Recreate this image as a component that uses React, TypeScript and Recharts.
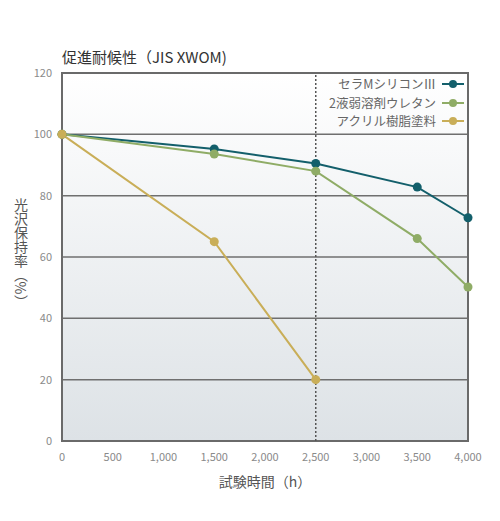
import React from 'react'
import { CartesianGrid, Label, Legend, Line, LineChart, ReferenceArea, ReferenceLine, XAxis, YAxis } from 'recharts'

const hours = [0, 1500, 2500, 3500, 4000]
const ceramSilicon = [100, 95.2, 90.5, 82.8, 72.8]
const urethane = [100, 93.6, 88, 66, 50.2]
const acrylic: (number | null)[] = [100, 65, 20, null, null]

const xTicks = [0, 500, 1000, 1500, 2000, 2500, 3000, 3500, 4000]
const yTicks = [0, 20, 40, 60, 80, 100, 120]

const seriesNames = ['セラMシリコンⅢ', '2液弱溶剤ウレタン', 'アクリル樹脂塗料']
const seriesColors = ['#135f6b', '#8fac66', '#c9ae58']

const data = hours.map((h, i) => ({
    h,
    s0: ceramSilicon[i],
    s1: urethane[i],
    s2: acrylic[i],
}))

const font = '"Noto Sans CJK JP", "Noto Sans", sans-serif'

const fmt = (v: number) => v.toLocaleString('en-US')

const LegendBox = () => (
    <div style={{ fontFamily: font, fontSize: 12.5, color: '#666', lineHeight: '18.5px' }}>
        {seriesNames.map((n, i) => (
            <div key={n} style={{ display: 'flex', alignItems: 'center', justifyContent: 'flex-end' }}>
                <span>{n}</span>
                <svg width={26} height={12} style={{ marginLeft: 4 }}>
                    <line x1={2} x2={24} y1={6} y2={6} stroke={seriesColors[i]} strokeWidth={2} />
                    <circle cx={13} cy={6} r={4} fill={seriesColors[i]} />
                </svg>
            </div>
        ))}
    </div>
)

const VerticalLabel = () => (
    <text x={21} y={253} textAnchor="middle" fill="#555" fontSize={14}
        style={{ writingMode: 'vertical-rl', fontFamily: font }}>
        光沢保持率（%）
    </text>
)

const App = () => {
    return (
        <div style={{ position: 'absolute', left: 0, top: 0, fontFamily: font }}>
            <div style={{ position: 'absolute', left: 62, top: 46, fontSize: 15, color: '#333', whiteSpace: 'nowrap' }}>
                促進耐候性（JIS XWOM)
            </div>
            <LineChart width={500} height={521} data={data}
                margin={{ top: 73, right: 32, bottom: 34, left: 0 }}>
                <defs>
                    <linearGradient id="bg" x1="0" y1="0" x2="0" y2="1">
                        <stop offset="0%" stopColor="#ffffff" />
                        <stop offset="100%" stopColor="#dde2e6" />
                    </linearGradient>
                </defs>
                <CartesianGrid vertical={false} stroke="#6f6f6f" strokeWidth={1.5} fill="url(#bg)" fillOpacity={1} />
                <XAxis dataKey="h" type="number" domain={[0, 4000]} ticks={xTicks} tickFormatter={fmt}
                    axisLine={false} tickLine={false} tickSize={0} tickMargin={12} height={46}
                    tick={{ fontSize: 11, fill: '#8a8a8a', fontFamily: font }}>
                    <Label value="試験時間（h）" position="insideBottom" offset={0}
                        style={{ fontSize: 14, fill: '#555', fontFamily: font }} />
                </XAxis>
                <YAxis type="number" domain={[0, 120]} ticks={yTicks} width={62}
                    axisLine={false} tickLine={false} tickSize={0} tickMargin={10}
                    tick={{ fontSize: 11, fill: '#8a8a8a', fontFamily: font }}>
                    <Label content={<VerticalLabel />} />
                </YAxis>
                <ReferenceLine x={2500} stroke="#555" strokeWidth={1.5} strokeDasharray="2 2" />
                <ReferenceArea x1={0} x2={4000} y1={0} y2={120} fill="none" stroke="#6a6a6a" strokeWidth={2} />
                {seriesNames.map((n, i) => (
                    <Line key={n} dataKey={`s${i}`} name={n} stroke={seriesColors[i]} strokeWidth={2}
                        dot={{ r: 4.5, fill: seriesColors[i], stroke: seriesColors[i], strokeWidth: 0 }}
                        isAnimationActive={false} connectNulls={false} />
                ))}
                <Legend layout="horizontal" verticalAlign="middle" align="center" content={<LegendBox />}
                    wrapperStyle={{ position: 'absolute', top: 75, right: 34, left: 'auto', width: 'auto' }} />
            </LineChart>
        </div>
    )
}

export default App
